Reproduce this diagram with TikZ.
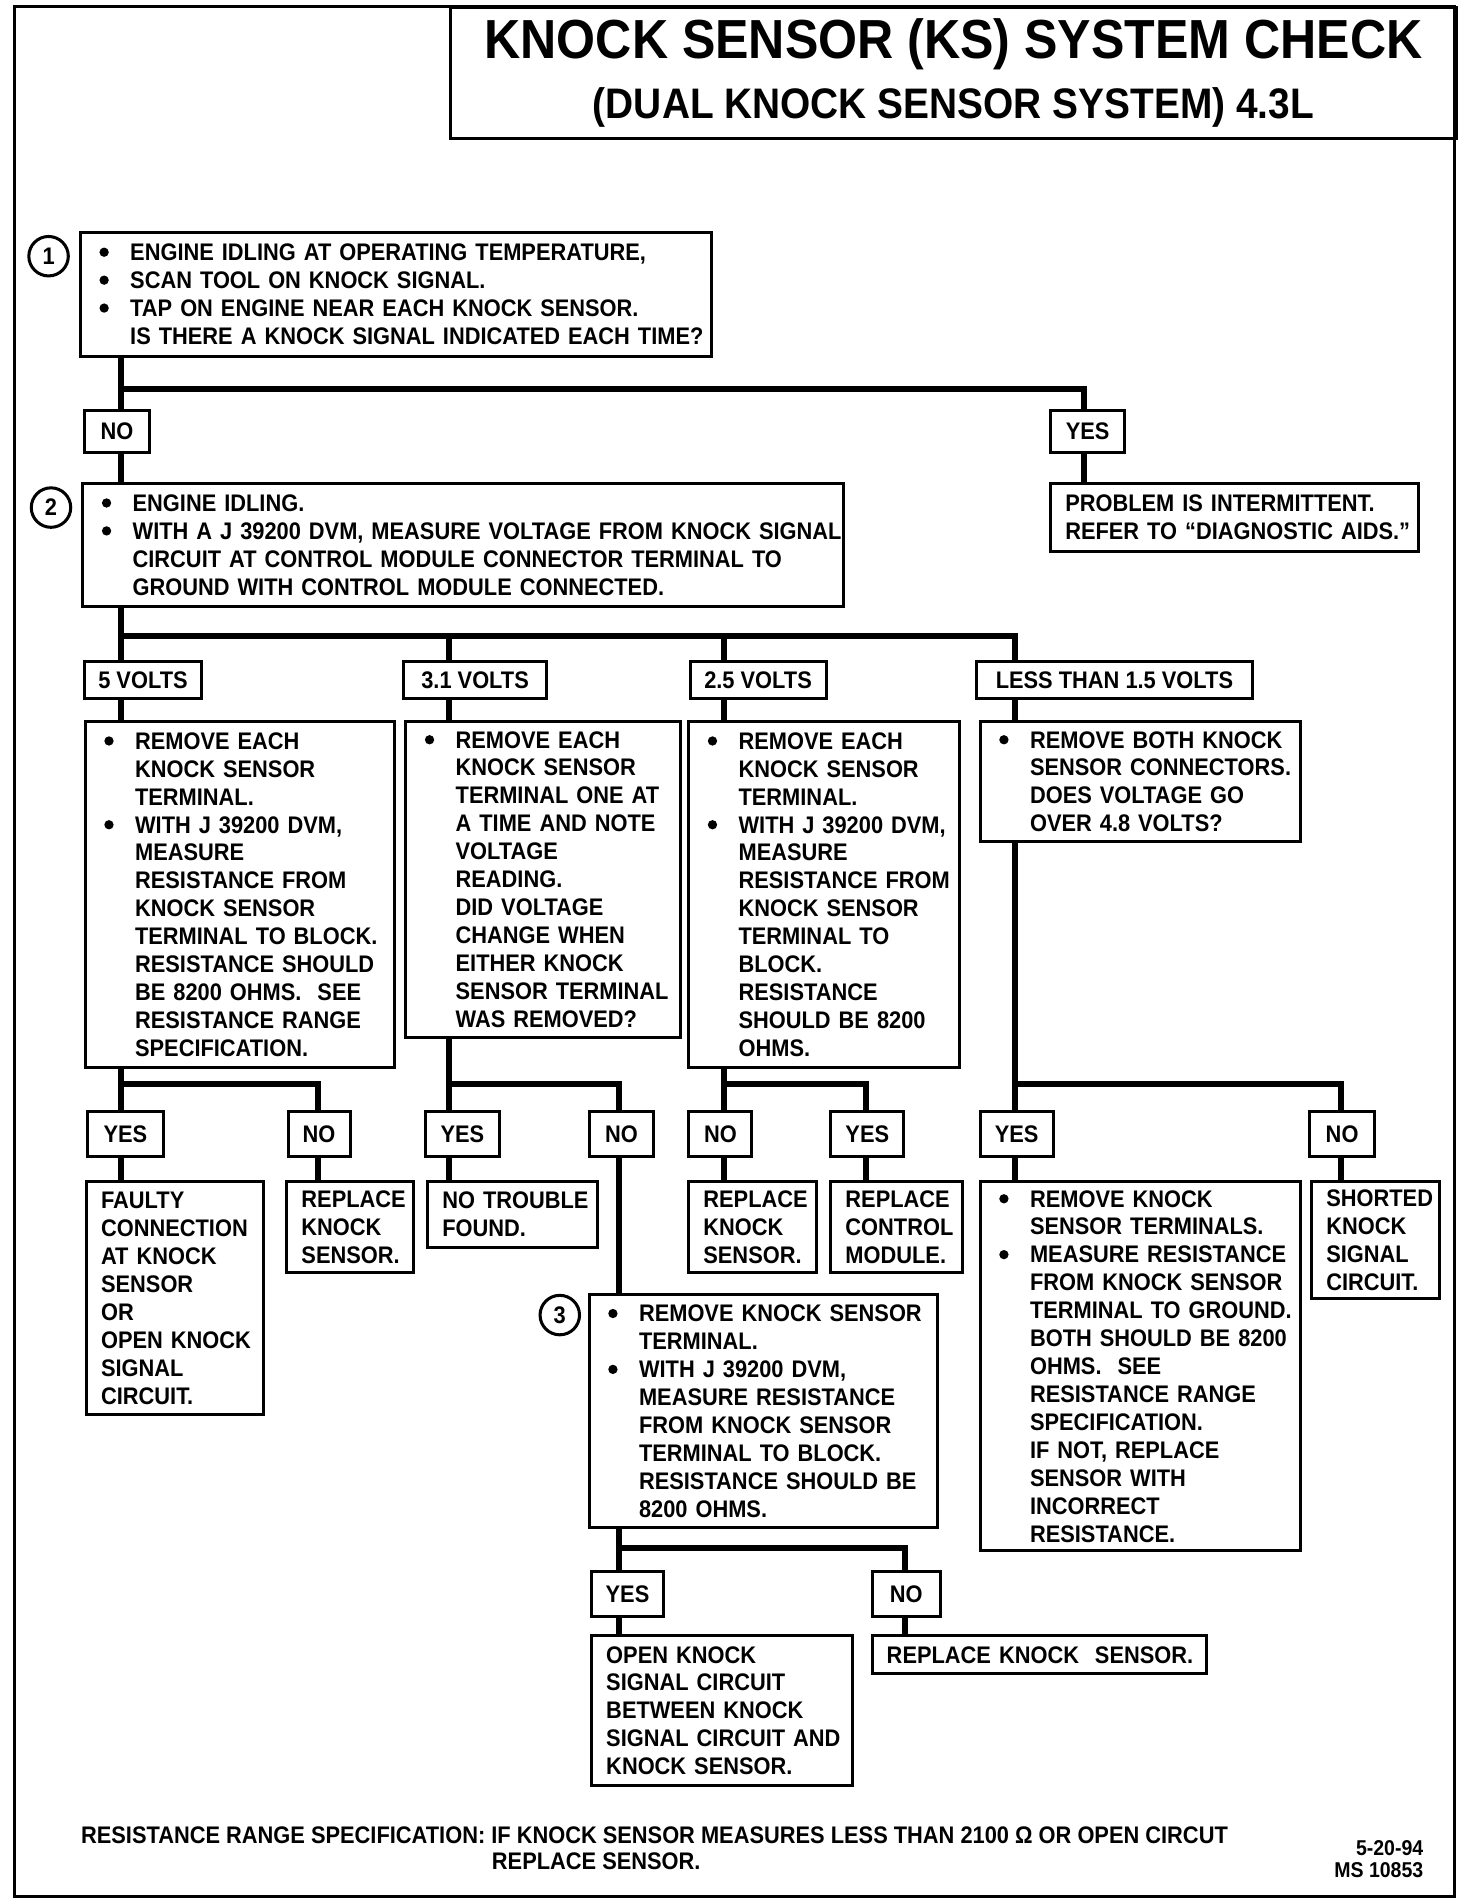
\documentclass[tikz,border=0pt]{standalone}
\usepackage{fontspec}
\setmainfont{Liberation Sans}[FakeStretch=0.91]
\newcommand{\boxfont}{\fontsize{11.85}{13.8}\selectfont\bfseries}
\newcommand{\BulGap}{10.6pt}
\newcommand{\bul}{\leavevmode\llap{\tikz[baseline=0pt]\fill (0pt,4.1pt) circle (2.3pt);\hspace{\BulGap}}}
\newcommand{\TrunkX}{100}
\newcommand{\VoltY}{560}
\newcommand{\AnsY}{934}
\newcommand{\BarY}{893}

\begin{document}
\begin{tikzpicture}[
    x=0.6pt, y=-0.6pt, font=\boxfont,
    frame/.style={line width=1.5pt},
    stepbox/.style={draw, line width=1.5pt, anchor=north west, inner xsep=7.2pt, inner ysep=0pt, align=left,
      execute at begin node={\rightskip=0pt plus 1fil minus 40pt\relax}},
    bulletbox/.style={stepbox, execute at begin node={\rightskip=0pt plus 1fil minus 40pt\relax\leftskip=17.4pt\relax}},
    tag/.style={draw, line width=1.5pt, anchor=west, minimum height=22pt, inner xsep=1pt, inner ysep=0pt},
    num/.style={circle, draw, line width=1.5pt, minimum size=19.5pt, inner sep=0pt},
    link/.style={line width=3pt},
  ]
\useasboundingbox (0,0) rectangle (1212,1568);

% --- Frame and heading ---------------------------------------------------------
\draw[frame] (12,5) rectangle (1198,1562);
\node[draw, line width=1.5pt, anchor=north west, minimum width=496.8pt, minimum height=64.8pt, inner sep=0pt,
      align=center, font=\fontsize{27.2}{29.4}\selectfont\bfseries] (head) at (370,5)
  {KNOCK SENSOR (KS) SYSTEM CHECK\\{\fontsize{21.1}{29.4}\selectfont (DUAL KNOCK SENSOR SYSTEM) 4.3L}};

% --- Step 1 --------------------------------------------------------------------
\node[num] (n1) at (40,211) {1};
\node[bulletbox, text width=297.6pt, minimum height=61.2pt] (ask1) at (65,190)
  {\bul ENGINE IDLING AT OPERATING TEMPERATURE,\\
   \bul SCAN TOOL ON KNOCK SIGNAL.\\
   \bul TAP ON ENGINE NEAR EACH KNOCK SENSOR.\\
   IS THERE A KNOCK SIGNAL INDICATED EACH TIME?};
\node[tag, minimum width=32.4pt, minimum height=21pt] (no1) at (68,355.5) {NO};
\node[tag, minimum width=36.6pt, minimum height=21pt] (yes1) at (864,355.5) {YES};
\node[stepbox, text width=167.4pt, minimum height=33.6pt] (prob) at (864,397)
  {PROBLEM IS INTERMITTENT.\\REFER TO “DIAGNOSTIC AIDS.”};

% --- Step 2 --------------------------------------------------------------------
\node[num] (n2) at (42,418) {2};
\node[bulletbox, text width=361.2pt, minimum height=60.6pt] (ask2) at (67,397)
  {\bul ENGINE IDLING.\\
   \bul WITH A J 39200 DVM, MEASURE VOLTAGE FROM KNOCK SIGNAL\\
   CIRCUIT AT CONTROL MODULE CONNECTOR TERMINAL TO\\
   GROUND WITH CONTROL MODULE CONNECTED.};

\foreach \nm/\x/\w/\t in {v5/68/58.2/{5 VOLTS}, v31/331/70.8/{3.1 VOLTS}, v25/567/67.2/{2.5 VOLTS}, v15/803/136.2/{LESS THAN 1.5 VOLTS}}
  \node[tag, minimum width=\w pt, minimum height=18pt] (\nm) at (\x,\VoltY) {\t};

% --- The four voltage branches ---------------------------------------------------
\node[bulletbox, text width=138.6pt, minimum height=171pt] (askA) at (69,593)
  {\bul REMOVE EACH\\KNOCK SENSOR\\TERMINAL.\\
   \bul WITH J 39200 DVM,\\MEASURE\\RESISTANCE FROM\\KNOCK SENSOR\\TERMINAL TO BLOCK.\\
   RESISTANCE SHOULD\\BE 8200 OHMS.\ \ SEE\\RESISTANCE RANGE\\SPECIFICATION.};
\node[bulletbox, text width=121.2pt, minimum height=156pt] (askB) at (333,593)
  {\bul REMOVE EACH\\KNOCK SENSOR\\TERMINAL ONE AT\\A TIME AND NOTE\\VOLTAGE\\READING.\\
   DID VOLTAGE\\CHANGE WHEN\\EITHER KNOCK\\SENSOR TERMINAL\\WAS REMOVED?};
\node[bulletbox, text width=119.4pt, minimum height=171pt] (askC) at (566,593)
  {\bul REMOVE EACH\\KNOCK SENSOR\\TERMINAL.\\
   \bul WITH J 39200 DVM,\\MEASURE\\RESISTANCE FROM\\KNOCK SENSOR\\TERMINAL TO\\BLOCK.\\
   RESISTANCE\\SHOULD BE 8200\\OHMS.};
\node[bulletbox, text width=144pt, minimum height=59.4pt] (askD) at (806,593)
  {\bul REMOVE BOTH KNOCK\\SENSOR CONNECTORS.\\DOES VOLTAGE GO\\OVER 4.8 VOLTS?};

\foreach \nm/\x/\w/\t in {yesA/71/37.2/YES, noA/236/30.6/NO, yesB/349/36.6/YES, noB/484/31.8/NO,
                          noC/566/31.2/NO, yesC/683/36/YES, yesD/806/36/YES, noD/1077/32.4/NO}
  \node[tag, minimum width=\w pt] (\nm) at (\x,\AnsY) {\t};

% --- Outcomes ------------------------------------------------------------------
\node[stepbox, text width=73.2pt, minimum height=115.2pt] (faulty) at (70,972)
  {FAULTY\\CONNECTION\\AT KNOCK\\SENSOR\\OR\\OPEN KNOCK\\SIGNAL\\CIRCUIT.};
\node[stepbox, text width=48pt, minimum height=45pt] (replA) at (235,972) {REPLACE\\KNOCK\\SENSOR.};
\node[stepbox, text width=69.6pt, minimum height=32.4pt] (nofault) at (351,972) {NO TROUBLE\\FOUND.};
\node[stepbox, text width=48.6pt, minimum height=45pt] (replC) at (566,972) {REPLACE\\KNOCK\\SENSOR.};
\node[stepbox, text width=50.4pt, minimum height=45pt] (replM) at (683,972) {REPLACE\\CONTROL\\MODULE.};
\node[bulletbox, text width=144pt, minimum height=182.4pt] (askE) at (806,972)
  {\bul REMOVE KNOCK\\SENSOR TERMINALS.\\
   \bul MEASURE RESISTANCE\\FROM KNOCK SENSOR\\TERMINAL TO GROUND.\\
   BOTH SHOULD BE 8200\\OHMS.\ \ SEE\\RESISTANCE RANGE\\SPECIFICATION.\\
   IF NOT, REPLACE\\SENSOR WITH\\INCORRECT\\RESISTANCE.};
\node[stepbox, text width=48.6pt, minimum height=57.6pt] (shorted) at (1079,972) {SHORTED\\KNOCK\\SIGNAL\\CIRCUIT.};

% --- Step 3 --------------------------------------------------------------------
\node[num] (n3) at (461,1083) {3};
\node[bulletbox, text width=157.8pt, minimum height=115.2pt] (ask3) at (484,1065)
  {\bul REMOVE KNOCK SENSOR\\TERMINAL.\\
   \bul WITH J 39200 DVM,\\MEASURE RESISTANCE\\FROM KNOCK SENSOR\\TERMINAL TO BLOCK.\\
   RESISTANCE SHOULD BE\\8200 OHMS.};
\node[tag, minimum width=35.4pt] (yes3) at (486,1312.5) {YES};
\node[tag, minimum width=33.6pt] (no3) at (717,1312.5) {NO};
\node[stepbox, text width=114.6pt, minimum height=73.8pt] (openks) at (486,1346)
  {OPEN KNOCK\\SIGNAL CIRCUIT\\BETWEEN KNOCK\\SIGNAL CIRCUIT AND\\KNOCK SENSOR.};
\node[stepbox, text width=150.6pt, minimum height=18.6pt] (replK) at (717,1346) {REPLACE KNOCK\ \ SENSOR.};

% --- Junctions -----------------------------------------------------------------
\coordinate (j1) at (\TrunkX,320);   \coordinate (j1e) at (893,320);
\coordinate (j2) at (\TrunkX,524);   \coordinate (j2b) at (370,524);
\coordinate (j2c) at (596,524);      \coordinate (j2d) at (836,524);
\coordinate (jA) at (\TrunkX,\BarY); \coordinate (jAe) at (262,\BarY);
\coordinate (jB) at (370,\BarY);     \coordinate (jBe) at (510,\BarY);
\coordinate (jC) at (596,\BarY);     \coordinate (jCe) at (713,\BarY);
\coordinate (jD) at (836,\BarY);     \coordinate (jDe) at (1104,\BarY);
\coordinate (j3) at (510,1275);      \coordinate (j3e) at (745,1275);

% --- Connectors ----------------------------------------------------------------
\draw[link] (ask1.south -| j1) -- (no1.north -| j1);
\draw[link] (j1) -- (j1e) -- (yes1.north -| j1e);
\draw[link] (no1.south -| j1) -- (ask2.north -| j1);
\draw[link] (yes1.south -| j1e) -- (prob.north -| j1e);

\draw[link] (ask2.south -| j2) -- (v5.north -| j2);
\draw[link] (j2) -- (j2d) -- (v15.north -| j2d);
\draw[link] (j2b) -- (v31.north -| j2b);
\draw[link] (j2c) -- (v25.north -| j2c);
\draw[link] (v5.south -| j2) -- (askA.north -| j2);
\draw[link] (v31.south -| j2b) -- (askB.north -| j2b);
\draw[link] (v25.south -| j2c) -- (askC.north -| j2c);
\draw[link] (v15.south -| j2d) -- (askD.north -| j2d);

\draw[link] (askA.south -| jA) -- (yesA.north -| jA);
\draw[link] (jA) -- (jAe) -- (noA.north -| jAe);
\draw[link] (yesA.south -| jA) -- (faulty.north -| jA);
\draw[link] (noA.south -| jAe) -- (replA.north -| jAe);

\draw[link] (askB.south -| jB) -- (yesB.north -| jB);
\draw[link] (jB) -- (jBe) -- (noB.north -| jBe);
\draw[link] (yesB.south -| jB) -- (nofault.north -| jB);
\draw[link] (noB.south -| jBe) -- (ask3.north -| jBe);

\draw[link] (askC.south -| jC) -- (noC.north -| jC);
\draw[link] (jC) -- (jCe) -- (yesC.north -| jCe);
\draw[link] (noC.south -| jC) -- (replC.north -| jC);
\draw[link] (yesC.south -| jCe) -- (replM.north -| jCe);

\draw[link] (askD.south -| jD) -- (yesD.north -| jD);
\draw[link] (jD) -- (jDe) -- (noD.north -| jDe);
\draw[link] (yesD.south -| jD) -- (askE.north -| jD);
\draw[link] (noD.south -| jDe) -- (shorted.north -| jDe);

\draw[link] (ask3.south -| j3) -- (yes3.north -| j3);
\draw[link] (j3) -- (j3e) -- (no3.north -| j3e);
\draw[link] (yes3.south -| j3) -- (openks.north -| j3);
\draw[link] (no3.south -| j3e) -- (replK.north -| j3e);

% --- Footnote ------------------------------------------------------------------
\node (spec) at (539,1511) {RESISTANCE RANGE SPECIFICATION: IF KNOCK SENSOR MEASURES LESS THAN 2100 Ω OR OPEN CIRCUT};
\node (spec2) at (491,1533) {REPLACE SENSOR.};
\node[anchor=east, align=right, font=\fontsize{10.6}{10.6}\selectfont\bfseries] (stamp) at (1178,1531) {5-20-94\\MS 10853};

\end{tikzpicture}
\end{document}
